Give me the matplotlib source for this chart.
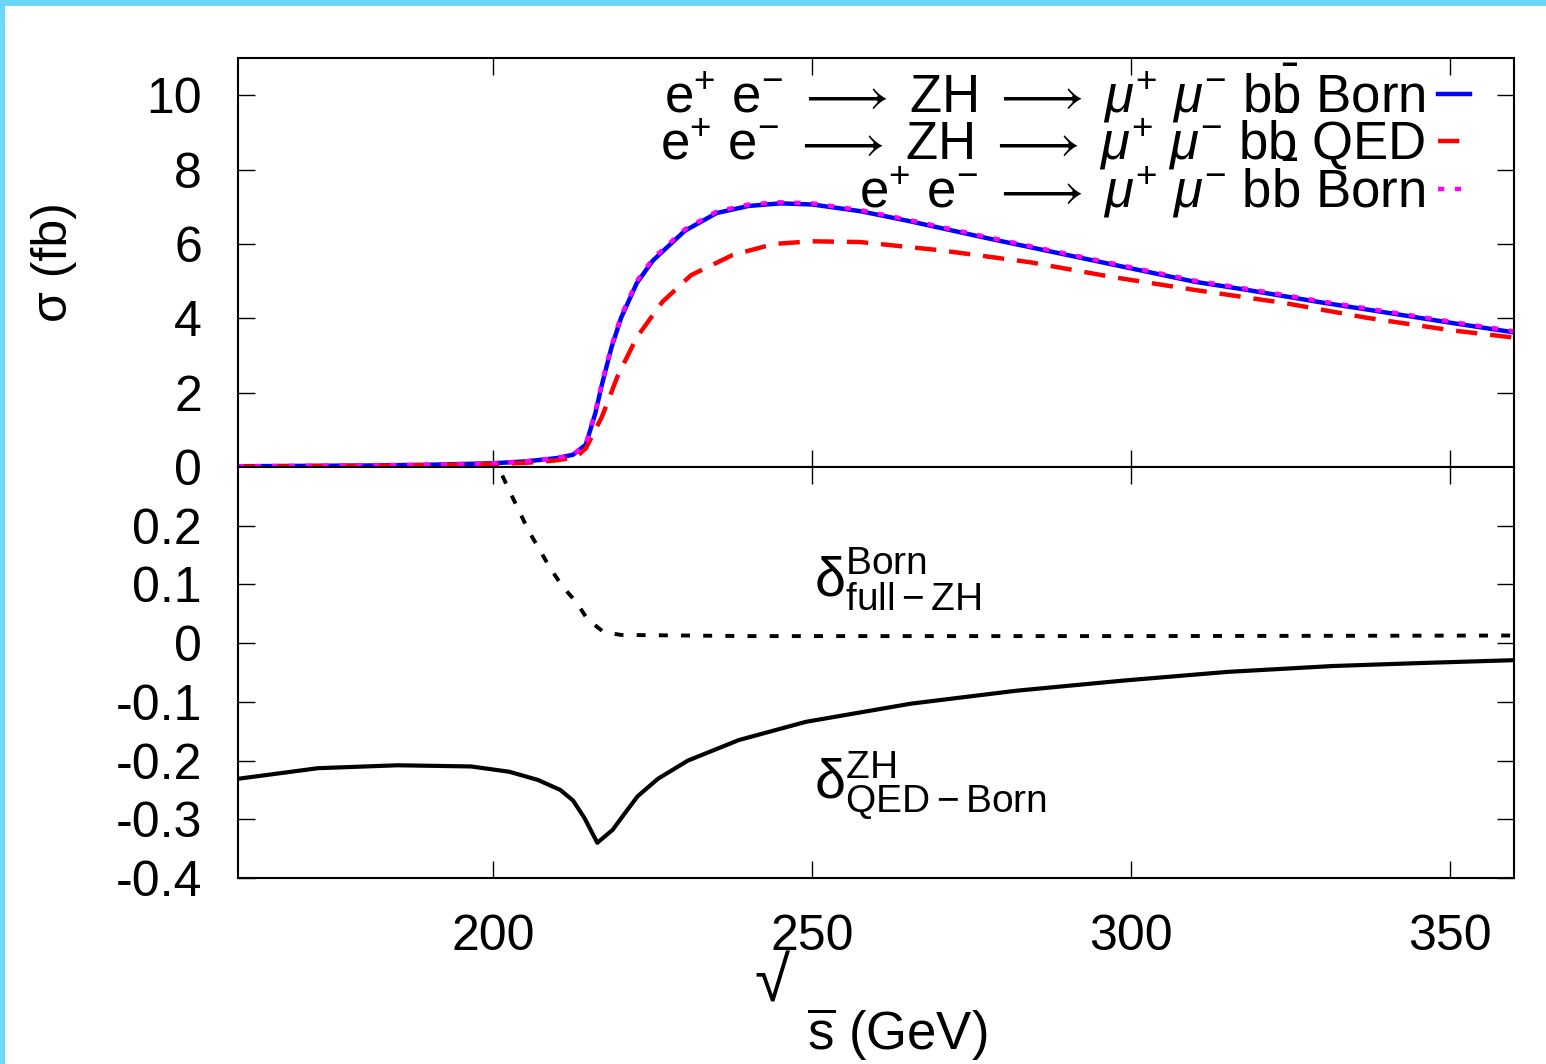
import numpy as np
import matplotlib
matplotlib.use("Agg")
import matplotlib.pyplot as plt
from matplotlib.patches import Rectangle

# data
x_zh = [160, 170, 180, 190, 200, 205, 210, 212.5, 214.5, 216, 217, 218.5, 220, 222.5,
        225, 227.5, 230, 235, 240, 245, 250, 257.5, 265, 277.5, 290, 297.5, 310,
        317.5, 330, 337.5, 350, 360]
born_zh = [0.02, 0.03, 0.04, 0.06, 0.1, 0.15, 0.24, 0.33, 0.6, 1.45, 2.2, 3.2, 4.0, 4.95,
           5.55, 5.95, 6.35, 6.83, 7.02, 7.09, 7.06, 6.88, 6.62, 6.15, 5.7, 5.43, 4.98,
           4.78, 4.42, 4.22, 3.88, 3.62]
born_full = [0.02, 0.03, 0.04, 0.06, 0.1, 0.15, 0.24, 0.33, 0.62, 1.5, 2.25, 3.25, 4.05, 5.0,
             5.6, 6.0, 6.39, 6.87, 7.06, 7.12, 7.09, 6.91, 6.65, 6.18, 5.73, 5.46, 5.01,
             4.81, 4.45, 4.25, 3.91, 3.65]

x_qed = [160, 170, 180, 190, 200, 205, 210, 213, 214.5, 217, 219.5, 222.5, 226.5, 231,
         237.5, 244, 250, 257.5, 270, 284, 297, 310, 324, 337, 350, 360]
qed_zh = [0.01, 0.02, 0.03, 0.05, 0.08, 0.11, 0.18, 0.27, 0.5, 1.34, 2.45, 3.49, 4.44, 5.16,
          5.70, 6.0, 6.07, 6.05, 5.83, 5.51, 5.11, 4.76, 4.41, 4.01, 3.68, 3.48]

x_dqed = [160, 172.5, 185, 196.5, 202.5, 207, 210.5, 212.5, 214.3, 216.3, 218.7, 220.6,
          222.6, 225.8, 230.5, 238.5, 249, 265.5, 282, 298.5, 315, 331.5, 345, 360]
delta_qed = [-0.231, -0.213, -0.208, -0.210, -0.219, -0.233, -0.250, -0.268, -0.298, -0.340,
             -0.318, -0.290, -0.261, -0.231, -0.200, -0.165, -0.134, -0.103, -0.081, -0.064,
             -0.049, -0.039, -0.034, -0.029]

x_dfull = [200, 201, 202.5, 205.6, 208.8, 210.8, 213, 214.8, 217.3, 220, 240, 260, 300, 360]
delta_full = [0.32, 0.295, 0.26, 0.19, 0.13, 0.097, 0.07, 0.04, 0.019, 0.014, 0.012, 0.012,
              0.012, 0.013]

xticks = [200, 250, 300, 350]
xtick_labels = ["200", "250", "300", "350"]
yticks_top = [0, 2, 4, 6, 8, 10]
ytick_labels_top = ["0", "2", "4", "6", "8", "10"]
yticks_bot = [-0.4, -0.3, -0.2, -0.1, 0, 0.1, 0.2]
ytick_labels_bot = ["-0.4", "-0.3", "-0.2", "-0.1", "0", "0.1", "0.2"]

arrow = r"\;\longrightarrow\;"
lab_born_zh = r"$\mathrm{e^{+}\ e^{-}}" + arrow + r"\mathrm{ZH}" + arrow + r"\mu^{+}\ \mu^{-}\ \mathrm{b\bar{b}}$ Born"
lab_qed_zh = r"$\mathrm{e^{+}\ e^{-}}" + arrow + r"\mathrm{ZH}" + arrow + r"\mu^{+}\ \mu^{-}\ \mathrm{b\bar{b}}$ QED"
lab_born_full = r"$\mathrm{e^{+}\ e^{-}}" + arrow + r"\mu^{+}\ \mu^{-}\ \mathrm{b\bar{b}}$ Born"

plt.rcParams['font.family'] = ['Liberation Sans', 'DejaVu Sans']
plt.rcParams['mathtext.fontset'] = 'custom'
plt.rcParams['mathtext.rm'] = 'Liberation Sans'
plt.rcParams['mathtext.it'] = 'Liberation Sans:italic'
plt.rcParams['mathtext.bf'] = 'Liberation Sans:bold'
plt.rcParams['mathtext.fallback'] = 'stix'
plt.rcParams['axes.unicode_minus'] = False

fig = plt.figure(figsize=(15.46, 10.64), dpi=100)
ax1 = fig.add_axes([0.154, 0.5611, 0.8254, 0.3844])
ax2 = fig.add_axes([0.154, 0.1748, 0.8254, 0.3863])

# light blue frame on top and left edges
fig.add_artist(Rectangle((0, 1 - 6 / 1064), 1, 6 / 1064, transform=fig.transFigure,
                         color='#6dd7fb', lw=0))
fig.add_artist(Rectangle((0, 0), 5 / 1546, 1, transform=fig.transFigure,
                         color='#6dd7fb', lw=0))

# top panel
ax1.plot(x_zh, born_zh, color='#0000ff', lw=3.2, label=lab_born_zh)
ax1.plot(x_qed, qed_zh, color='#ff0000', lw=3.2, dashes=(4.8, 2.9), label=lab_qed_zh)
ax1.plot(x_zh, born_full, color='#ff00ff', lw=3.2, dashes=(1.4, 2.4), label=lab_born_full)
ax1.set_xlim(160, 360)
ax1.set_ylim(0, 11)
ax1.set_xticks(xticks)
ax1.set_xticklabels([])
ax1.set_yticks(yticks_top)
ax1.set_yticklabels(ytick_labels_top)
ax1.set_ylabel("σ (fb)", fontsize=36, labelpad=50)

leg = ax1.legend(loc='upper right', bbox_to_anchor=(0.9655, 0.99), frameon=False,
                 markerfirst=False, fontsize=38, handlelength=0.6, handletextpad=0.25,
                 borderpad=0, borderaxespad=0, labelspacing=-0.3)

# bottom panel
ax2.plot(x_dqed, delta_qed, color='black', lw=3)
ax2.plot(x_dfull, delta_full, color='black', lw=2.8, dashes=(2.3, 3.4))
ax2.set_xlim(160, 360)
ax2.set_ylim(-0.4, 0.3)
ax2.set_xticks(xticks)
ax2.set_xticklabels(xtick_labels)
ax2.set_yticks(yticks_bot)
ax2.set_yticklabels(ytick_labels_bot)

ax2.text(250.3, 0.08, r"$\mathrm{\delta}^{\rm Born}_{\rm full-ZH}$", fontsize=40, ha='left', va='baseline')
ax2.text(250.3, -0.264, r"$\mathrm{\delta}^{\rm ZH}_{\rm QED-Born}$", fontsize=40, ha='left', va='baseline')

# x label, gnuplot style sqrt
ax2.set_xlabel(r"$\overline{\rm s}$ (GeV)", fontsize=38)
ax2.xaxis.set_label_coords((897 - 238) / 1276, -0.312)
ax2.text((772 - 238) / 1276, -0.26, "√", transform=ax2.transAxes, fontsize=46,
         ha='center', va='center')

for ax in (ax1, ax2):
    for sp in ax.spines.values():
        sp.set_linewidth(1.5)
    ax.tick_params(direction='in', length=12, width=1, labelsize=36, pad=26,
                   top=True, right=True)

fig.savefig("out.png", dpi=100)
